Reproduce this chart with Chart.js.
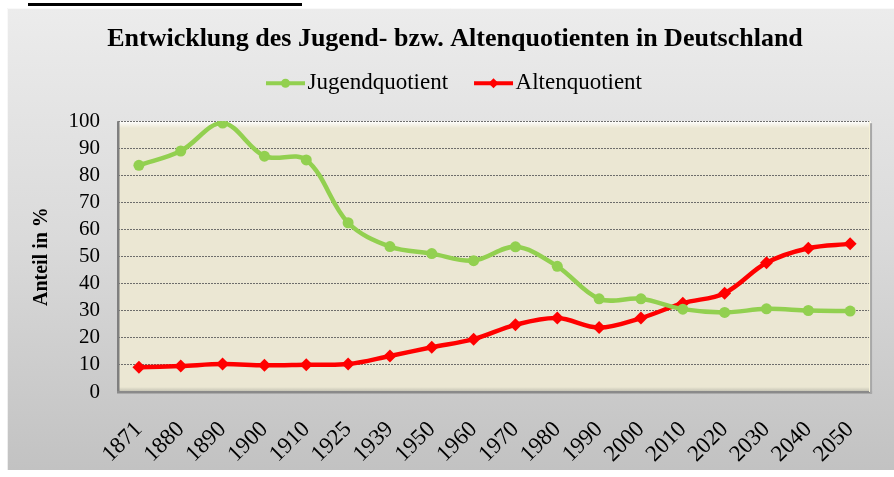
<!DOCTYPE html>
<html>
<head>
<meta charset="utf-8">
<script src="https://cdn.jsdelivr.net/npm/chart.js@4"></script>
<style>
  html, body { margin: 0; padding: 0; background: #ffffff; }
  #wrap { width: 894px; height: 477px; position: relative; }
</style>
</head>
<body>
<div id="wrap"><canvas id="c" width="894" height="477"></canvas></div>
<script>
const chartTitle = 'Entwicklung des Jugend- bzw. Altenquotienten in Deutschland';
const yAxisTitle = 'Anteil in %';
const years = ['1871','1880','1890','1900','1910','1925','1939','1950','1960','1970','1980','1990','2000','2010','2020','2030','2040','2050'];
const seriesNames = ['Jugendquotient', 'Altenquotient'];
const jugendquotient = [83.7, 89.0, 99.3, 87.1, 85.7, 62.5, 53.7, 51.1, 48.5, 53.6, 46.4, 34.4, 34.4, 30.6, 29.4, 30.7, 30.1, 29.9];
const altenquotient  = [9.1, 9.6, 10.3, 9.9, 10.1, 10.3, 13.3, 16.5, 19.5, 24.8, 27.3, 23.8, 27.3, 32.8, 36.5, 47.7, 53.1, 54.7];
const yTicks = [0, 10, 20, 30, 40, 50, 60, 70, 80, 90, 100];

const GREEN = '#92D050';
const RED = '#FF0000';
const SERIF = "'Liberation Serif', 'Times New Roman', serif";

const backgroundPlugin = {
  id: 'bgPlugin',
  beforeDraw(chart) {
    const ctx = chart.ctx;
    const a = chart.chartArea;
    ctx.save();
    ctx.fillStyle = '#ffffff';
    ctx.fillRect(0, 0, chart.width, chart.height);
    ctx.fillStyle = '#000000';
    ctx.fillRect(28, 3, 274, 3);
    const g = ctx.createLinearGradient(0, 8, 0, 470);
    g.addColorStop(0, '#ECECEC');
    g.addColorStop(0.5, '#DADADA');
    g.addColorStop(1, '#C2C2C2');
    ctx.fillStyle = g;
    ctx.fillRect(7, 8, 887, 462);
    ctx.strokeStyle = 'rgba(255,255,255,0.7)';
    ctx.lineWidth = 1;
    ctx.beginPath();
    ctx.moveTo(7.5, 470); ctx.lineTo(7.5, 8.5); ctx.lineTo(894, 8.5);
    ctx.stroke();
    ctx.fillStyle = '#EBE7D3';
    ctx.fillRect(a.left, a.top, a.right - a.left, a.bottom - a.top);
    const tg = ctx.createLinearGradient(0, a.top, 0, a.top + 7);
    tg.addColorStop(0, 'rgba(255,255,255,1)');
    tg.addColorStop(1, 'rgba(255,255,255,0)');
    ctx.fillStyle = tg;
    ctx.fillRect(a.left, a.top, a.right - a.left, 7);
    const bg = ctx.createLinearGradient(0, a.bottom - 5, 0, a.bottom);
    bg.addColorStop(0, 'rgba(160,160,150,0)');
    bg.addColorStop(1, 'rgba(160,160,150,0.6)');
    ctx.fillStyle = bg;
    ctx.fillRect(a.left, a.bottom - 5, a.right - a.left, 5);
    ctx.restore();
  },
  beforeDatasetsDraw(chart) {
    const ctx = chart.ctx;
    const a = chart.chartArea;
    ctx.save();
    ctx.fillStyle = '#7F7F7F';
    ctx.fillRect(a.left - 1, a.top, 2.5, a.bottom - a.top + 1);
    ctx.fillStyle = '#8A8A8A';
    ctx.fillRect(a.left - 1, a.bottom - 1, a.right - a.left + 2, 2.5);
    ctx.fillStyle = '#F6F2D8';
    ctx.fillRect(a.right - 2, a.top, 1, a.bottom - a.top);
    ctx.fillStyle = '#A8A8A8';
    ctx.fillRect(a.right - 1, a.top + 2, 2, a.bottom - a.top);
    ctx.restore();
  }
};

const legendMarkerPlugin = {
  id: 'legendMarkers',
  afterDraw(chart) {
    const lg = chart.legend;
    if (!lg || !lg.legendHitBoxes) return;
    const ctx = chart.ctx;
    ctx.save();
    lg.legendHitBoxes.forEach((hb, i) => {
      const ds = chart.data.datasets[i];
      const cy = hb.top + hb.height / 2;
      const x0 = hb.left - 2;
      const x1 = hb.left + 37;
      ctx.strokeStyle = ds.borderColor;
      ctx.lineWidth = 4;
      ctx.lineCap = 'butt';
      ctx.beginPath();
      ctx.moveTo(x0, cy); ctx.lineTo(x1, cy);
      ctx.stroke();
      const cx = (x0 + x1) / 2;
      ctx.fillStyle = ds.borderColor;
      ctx.beginPath();
      if (ds.pointStyle === 'rectRot') {
        const r = 5;
        ctx.moveTo(cx, cy - r); ctx.lineTo(cx + r, cy); ctx.lineTo(cx, cy + r); ctx.lineTo(cx - r, cy);
        ctx.closePath();
      } else {
        ctx.arc(cx, cy, 4.5, 0, Math.PI * 2);
      }
      ctx.fill();
    });
    ctx.restore();
  }
};

new Chart(document.getElementById('c'), {
  type: 'line',
  data: {
    labels: years,
    datasets: [
      {
        label: seriesNames[0],
        data: jugendquotient,
        borderColor: GREEN,
        backgroundColor: GREEN,
        borderWidth: 4.5,
        pointStyle: 'circle',
        pointRadius: 5.5,
        pointHoverRadius: 5.5,
        pointBorderWidth: 0,
        tension: 0.35,
        fill: false
      },
      {
        label: seriesNames[1],
        data: altenquotient,
        borderColor: RED,
        backgroundColor: RED,
        borderWidth: 4.5,
        pointStyle: 'rectRot',
        pointRadius: 6.5,
        pointHoverRadius: 6.5,
        pointBorderWidth: 0,
        tension: 0.35,
        fill: false
      }
    ]
  },
  options: {
    responsive: false,
    animation: false,
    devicePixelRatio: 1,
    layout: { padding: { left: 28, right: 12, top: 8, bottom: 8 } },
    plugins: {
      title: {
        display: true,
        text: chartTitle,
        color: '#000000',
        font: { family: SERIF, size: 26, weight: 'bold', lineHeight: 1.2 },
        padding: { top: 16, bottom: -28 }
      },
      legend: {
        display: true,
        position: 'top',
        labels: {
          color: '#000000',
          font: { family: SERIF, size: 23 },
          boxWidth: 28,
          boxHeight: 56,
          padding: 28,
          generateLabels(chart) {
            return chart.data.datasets.map((ds, i) => ({
              text: ds.label,
              fillStyle: 'rgba(0,0,0,0)',
              strokeStyle: 'rgba(0,0,0,0)',
              lineWidth: 0,
              hidden: false,
              datasetIndex: i,
              fontColor: '#000000'
            }));
          }
        }
      },
      tooltip: { enabled: false }
    },
    scales: {
      x: {
        type: 'category',
        offset: true,
        grid: { display: false, drawTicks: false },
        border: { display: false },
        ticks: {
          color: '#000000',
          font: { family: SERIF, size: 23 },
          minRotation: 45,
          maxRotation: 45,
          padding: 24,
          autoSkip: false
        },
        afterFit(scale) { scale.height = 77; }
      },
      y: {
        min: 0,
        max: 100,
        afterBuildTicks(scale) { scale.ticks = yTicks.map(v => ({ value: v })); },
        grid: {
          color: 'rgba(95,95,95,0.9)',
          lineWidth: 1,
          drawTicks: false
        },
        border: { display: false, dash: [2, 1] },
        ticks: {
          color: '#000000',
          font: { family: SERIF, size: 21 },
          padding: 18,
          autoSkip: false,
          stepSize: 10
        },
        title: {
          display: true,
          text: yAxisTitle,
          color: '#000000',
          font: { family: SERIF, size: 20, weight: 'bold' },
          padding: { top: 2, bottom: 0 }
        },
        afterFit(scale) { scale.width = 90; }
      }
    }
  },
  plugins: [backgroundPlugin, legendMarkerPlugin]
});
</script>
</body>
</html>
